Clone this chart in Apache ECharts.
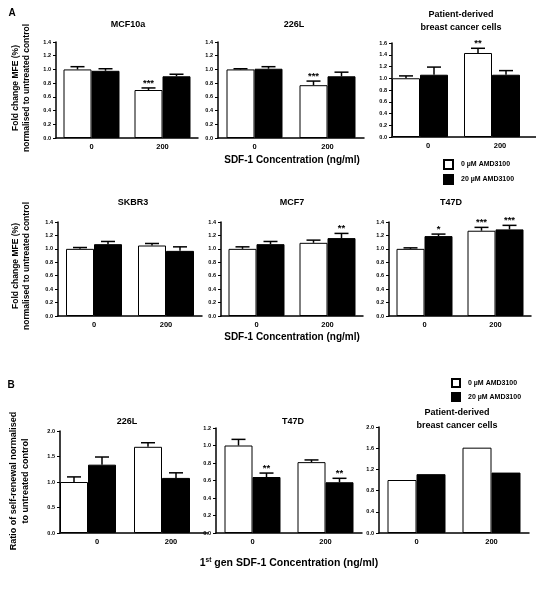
<!DOCTYPE html>
<html><head><meta charset="utf-8">
<script src="https://cdn.jsdelivr.net/npm/echarts@6/dist/echarts.min.js"></script>
<style>html,body{margin:0;padding:0;background:#fff}#c{width:536px;height:590px}</style>
</head><body><div id="c"></div>
<script>
// ---------- data ----------
const categories = ['0', '200'];
const seriesNames = ['0 µM AMD3100', '20 µM AMD3100'];

// Panel A, row 1
const mcf10aCtrl = [1.00, 0.70], mcf10aCtrlErr = [0.04, 0.03], mcf10aCtrlSig = ['', '***'];
const mcf10aAmd = [0.98, 0.90], mcf10aAmdErr = [0.03, 0.03], mcf10aAmdSig = ['', ''];
const l226aCtrl = [1.00, 0.77], l226aCtrlErr = [0.01, 0.06], l226aCtrlSig = ['', '***'];
const l226aAmd = [1.01, 0.90], l226aAmdErr = [0.03, 0.06], l226aAmdSig = ['', ''];
const patAECtrl = [1.00, 1.43], patAECtrlErr = [0.04, 0.08], patAECtrlSig = ['', '**'];
const patAEAmd = [1.06, 1.06], patAEAmdErr = [0.13, 0.07], patAEAmdSig = ['', ''];
// Panel A, row 2
const skbr3Ctrl = [1.00, 1.05], skbr3CtrlErr = [0.02, 0.03], skbr3CtrlSig = ['', ''];
const skbr3Amd = [1.07, 0.97], skbr3AmdErr = [0.04, 0.06], skbr3AmdSig = ['', ''];
const mcf7Ctrl = [1.00, 1.09], mcf7CtrlErr = [0.03, 0.04], mcf7CtrlSig = ['', ''];
const mcf7Amd = [1.07, 1.16], mcf7AmdErr = [0.04, 0.07], mcf7AmdSig = ['', '**'];
const t47daCtrl = [1.00, 1.27], t47daCtrlErr = [0.015, 0.05], t47daCtrlSig = ['', '***'];
const t47daAmd = [1.19, 1.29], t47daAmdErr = [0.03, 0.06], t47daAmdSig = ['*', '***'];
// Panel B
const l226bCtrl = [1.00, 1.69], l226bCtrlErr = [0.10, 0.08], l226bCtrlSig = ['', ''];
const l226bAmd = [1.34, 1.08], l226bAmdErr = [0.15, 0.10], l226bAmdSig = ['', ''];
const t47dbCtrl = [1.00, 0.81], t47dbCtrlErr = [0.07, 0.025], t47dbCtrlSig = ['', ''];
const t47dbAmd = [0.64, 0.58], t47dbAmdErr = [0.045, 0.045], t47dbAmdSig = ['**', '**'];
const patBCtrl = [1.00, 1.61], patBCtrlErr = [0, 0], patBCtrlSig = ['', ''];
const patBAmd = [1.11, 1.14], patBAmdErr = [0, 0], patBAmdSig = ['', ''];

// axis ranges / tick steps
const yMaxA1 = [1.4, 1.4, 1.6], yStepA1 = [0.2, 0.2, 0.2];
const yMaxA2 = [1.4, 1.4, 1.4], yStepA2 = [0.2, 0.2, 0.2];
const yMaxB = [2.0, 1.2, 2.0], yStepB = [0.5, 0.2, 0.4];

// titles
const titlesA1 = [['MCF10a'], ['226L'], ['Patient-derived', 'breast cancer cells']];
const titlesA2 = [['SKBR3'], ['MCF7'], ['T47D']];
const titlesB = [['226L'], ['T47D'], ['Patient-derived', 'breast cancer cells']];
const xTitleA = 'SDF-1 Concentration (ng/ml)';
const yTitleA = ['Fold change MFE (%)', 'normalised to untreated control'];
const yTitleB = ['Ratio of self-renewal normalised', 'to untreated control'];

// ---------- layout ----------
const FONT = '"Liberation Sans", Arial, sans-serif';
const panels = [
  {g:[56,42,142,96],  bw:28, sp:0,  max:yMaxA1[0], step:yStepA1[0], t:titlesA1[0], tx:128, ty:[25],
   d:[[mcf10aCtrl,mcf10aCtrlErr,mcf10aCtrlSig],[mcf10aAmd,mcf10aAmdErr,mcf10aAmdSig]]},
  {g:[218,42,146,96], bw:28, sp:0,  max:yMaxA1[1], step:yStepA1[1], t:titlesA1[1], tx:294, ty:[25],
   d:[[l226aCtrl,l226aCtrlErr,l226aCtrlSig],[l226aAmd,l226aAmdErr,l226aAmdSig]]},
  {g:[392,43,144,94], bw:28, sp:16, max:yMaxA1[2], step:yStepA1[2], t:titlesA1[2], tx:461, ty:[15,28],
   d:[[patAECtrl,patAECtrlErr,patAECtrlSig],[patAEAmd,patAEAmdErr,patAEAmdSig]]},
  {g:[58,222,144,94], bw:28, sp:0,  max:yMaxA2[0], step:yStepA2[0], t:titlesA2[0], tx:133, ty:[203],
   d:[[skbr3Ctrl,skbr3CtrlErr,skbr3CtrlSig],[skbr3Amd,skbr3AmdErr,skbr3AmdSig]]},
  {g:[221,222,142,94], bw:28, sp:0, max:yMaxA2[1], step:yStepA2[1], t:titlesA2[1], tx:292, ty:[203],
   d:[[mcf7Ctrl,mcf7CtrlErr,mcf7CtrlSig],[mcf7Amd,mcf7AmdErr,mcf7AmdSig]]},
  {g:[389,222,142,94], bw:28, sp:0, max:yMaxA2[2], step:yStepA2[2], t:titlesA2[2], tx:451, ty:[203],
   d:[[t47daCtrl,t47daCtrlErr,t47daCtrlSig],[t47daAmd,t47daAmdErr,t47daAmdSig]]},
  {g:[60,431,148,102], bw:28, sp:18, max:yMaxB[0], step:yStepB[0], t:titlesB[0], tx:127, ty:[422],
   d:[[l226bCtrl,l226bCtrlErr,l226bCtrlSig],[l226bAmd,l226bAmdErr,l226bAmdSig]]},
  {g:[216,428,146,105], bw:28, sp:0, max:yMaxB[1], step:yStepB[1], t:titlesB[1], tx:293, ty:[422],
   d:[[t47dbCtrl,t47dbCtrlErr,t47dbCtrlSig],[t47dbAmd,t47dbAmdErr,t47dbAmdSig]]},
  {g:[379,427,150,106], bw:29, sp:0, max:yMaxB[2], step:yStepB[2], t:titlesB[2], tx:457, ty:[413,426],
   d:[[patBCtrl,patBCtrlErr,patBCtrlSig],[patBAmd,patBAmdErr,patBAmdSig]]}
];

const grids = [], xAxes = [], yAxes = [], series = [], graphics = [];
panels.forEach((p, i) => {
  grids.push({left:p.g[0], top:p.g[1], width:p.g[2], height:p.g[3]});
  xAxes.push({type:'category', gridIndex:i, data:categories,
    axisLine:{lineStyle:{color:'#000', width:1.5}}, axisTick:{show:false},
    axisLabel:{color:'#000', fontSize:7.5, fontWeight:'bold', margin:5, fontFamily:FONT}});
  yAxes.push({type:'value', gridIndex:i, min:0, max:p.max, interval:p.step,
    axisLine:{show:true, lineStyle:{color:'#000', width:1.5}},
    axisTick:{show:true, length:3, lineStyle:{color:'#000', width:1}},
    splitLine:{show:false},
    axisLabel:{color:'#000', fontSize:5.5, fontWeight:'bold', margin:5, fontFamily:FONT,
      formatter: v => v.toFixed(1)}});
  const styles = [{color:'#fff', borderColor:'#000', borderWidth:1}, {color:'#000', borderColor:'#000', borderWidth:1}];
  p.d.forEach((sd, k) => {
    series.push({type:'bar', name:seriesNames[k], xAxisIndex:i, yAxisIndex:i, data:sd[0],
      barWidth:p.bw, barGap:'0%', itemStyle:styles[k], silent:true, animation:false});
  });
  if (p.sp) {
    series.push({type:'bar', name:'spacer', xAxisIndex:i, yAxisIndex:i, data:categories.map(() => 0),
      barWidth:p.sp, barGap:'0%', itemStyle:{color:'rgba(0,0,0,0)'}, silent:true, animation:false});
  }
  const total = p.bw * 2 + p.sp;
  p.d.forEach((sd, k) => {
    const vals = sd[0], errs = sd[1], sigs = sd[2];
    series.push({type:'custom', xAxisIndex:i, yAxisIndex:i, z:5, silent:true, animation:false,
      data: vals.map((v, ci) => [ci, v, errs[ci]]), encode:{x:0, y:1},
      renderItem: (params, api) => {
        const ci = api.value(0), v = api.value(1), e = api.value(2);
        const c = api.coord([ci, v]);
        const x = c[0] - total / 2 + p.bw / 2 + k * p.bw;
        const yv = c[1];
        const ye = api.coord([ci, v + e])[1];
        const ch = [];
        if (e > 0) {
          ch.push({type:'line', shape:{x1:x, y1:yv, x2:x, y2:ye}, style:{stroke:'#000', lineWidth:1.5}});
          ch.push({type:'line', shape:{x1:x - 7, y1:ye, x2:x + 7, y2:ye}, style:{stroke:'#000', lineWidth:1.5}});
        }
        const s = sigs[params.dataIndex];
        if (s) ch.push({type:'text', x:x, y:ye - 5, style:{text:s, fill:'#000', fontSize:9.5, fontWeight:'bold',
          fontFamily:FONT, align:'center', verticalAlign:'middle'}});
        return {type:'group', children:ch};
      }});
  });
  p.t.forEach((line, j) => {
    graphics.push({type:'text', x:p.tx, y:p.ty[j], style:{text:line, fill:'#000', fontSize:9,
      fontWeight:'bold', fontFamily:FONT, align:'center', verticalAlign:'middle'}});
  });
});

function txt(x, y, text, size, rot) {
  return {type:'text', x:x, y:y, rotation: rot ? Math.PI / 2 : 0,
    style:{text:text, fill:'#000', fontSize:size, fontWeight:'bold', fontFamily:FONT, align:'center', verticalAlign:'middle'}};
}
graphics.push(txt(12, 13, 'A', 10));
graphics.push(txt(11, 385, 'B', 10));
graphics.push(txt(292, 160, xTitleA, 10));
graphics.push(txt(292, 337, xTitleA, 10));
graphics.push(txt(16, 88, yTitleA[0], 8.5, true));
graphics.push(txt(27, 88, yTitleA[1], 8.5, true));
graphics.push(txt(16, 266, yTitleA[0], 8.5, true));
graphics.push(txt(27, 266, yTitleA[1], 8.5, true));
graphics.push(txt(14, 481, yTitleB[0], 9, true));
graphics.push(txt(26, 481, yTitleB[1], 9, true));
graphics.push({type:'text', x:289, y:563, style:{
  text:'{a|1}{s|st}{a| gen SDF-1 Concentration (ng/ml)}', fill:'#000', align:'center', verticalAlign:'middle',
  rich:{a:{fontSize:10.5, fontWeight:'bold', fontFamily:FONT, fill:'#000'},
        s:{fontSize:6.5, fontWeight:'bold', fontFamily:FONT, fill:'#000', verticalAlign:'top', padding:[0,0,5,0]}}}});

const legendBase = {data:seriesNames, orient:'vertical', icon:'rect', selectedMode:false,
  itemWidth:9, itemHeight:9, itemGap:4, padding:0,
  textStyle:{color:'#000', fontSize:7, fontWeight:'bold', fontFamily:FONT, padding:[0,0,0,3]}};
const chart = echarts.init(document.getElementById('c'), null, {renderer:'canvas'});
chart.setOption({
  animation:false,
  backgroundColor:'#fff',
  textStyle:{fontFamily:FONT},
  legend:[Object.assign({}, legendBase, {left:443, top:159}),
          Object.assign({}, legendBase, {left:451, top:378, itemWidth:8, itemHeight:8})],
  grid:grids, xAxis:xAxes, yAxis:yAxes, series:series, graphic:graphics
});
</script>
</body></html>
